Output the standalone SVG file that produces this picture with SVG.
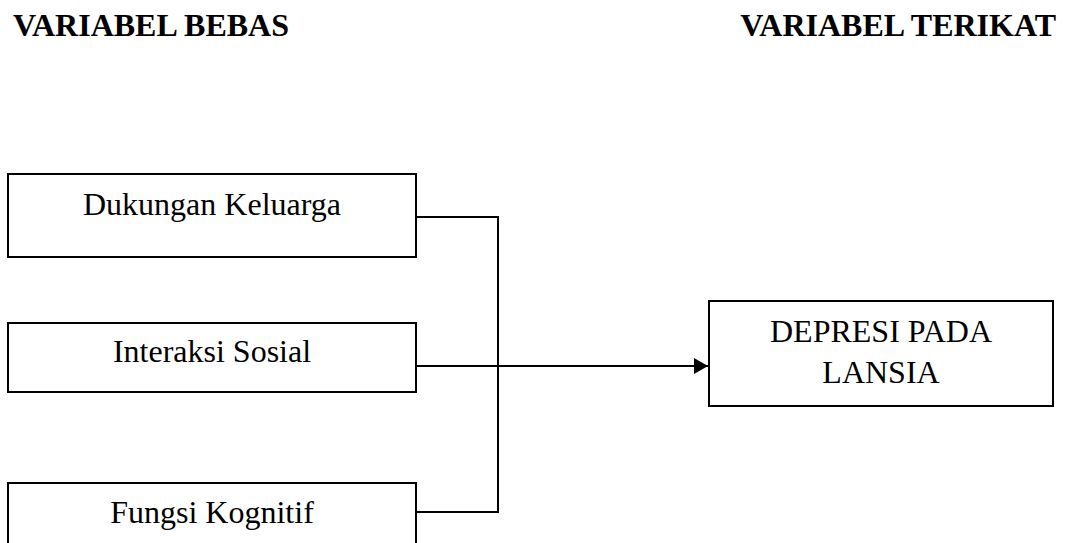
<svg xmlns="http://www.w3.org/2000/svg" width="1065" height="543" viewBox="0 0 1065 543">
<style>
.box{fill:#fff;stroke:#000;stroke-width:2}
.t{font-family:"Liberation Serif","Times New Roman",serif;font-size:32px;fill:#000;text-anchor:middle}
.h{font-family:"Liberation Serif","Times New Roman",serif;font-size:32px;font-weight:bold;fill:#000}
.c{fill:none;stroke:#000;stroke-width:2}
</style>
<defs>
<marker id="arr" markerUnits="userSpaceOnUse" markerWidth="16" markerHeight="18" refX="14" refY="8" orient="auto">
<path d="M0,0 L14,8 L0,16 Z" fill="#000"/>
</marker>
</defs>
<rect width="1065" height="543" fill="#fff"/>
<g id="header-bebas"><text class="h" x="13" y="36">VARIABEL BEBAS</text></g>
<g id="header-terikat"><text class="h" x="1056" y="36" text-anchor="end">VARIABEL TERIKAT</text></g>
<g id="connectors">
<polyline class="c" points="416,217 498,217 498,512 416,512"/>
<line class="c" x1="416" y1="366" x2="708" y2="366" marker-end="url(#arr)"/>
</g>
<g id="node-dukungan"><rect class="box" x="8" y="174" width="408" height="83"/><text class="t" x="212" y="215">Dukungan Keluarga</text></g>
<g id="node-interaksi"><rect class="box" x="8" y="323" width="408" height="69"/><text class="t" x="212" y="362">Interaksi Sosial</text></g>
<g id="node-fungsi"><rect class="box" x="8" y="483" width="408" height="70"/><text class="t" x="212" y="523">Fungsi Kognitif</text></g>
<g id="node-depresi"><rect class="box" x="709" y="301" width="344" height="105"/><text class="t" x="881" y="342">DEPRESI PADA</text><text class="t" x="881" y="383">LANSIA</text></g>
</svg>
